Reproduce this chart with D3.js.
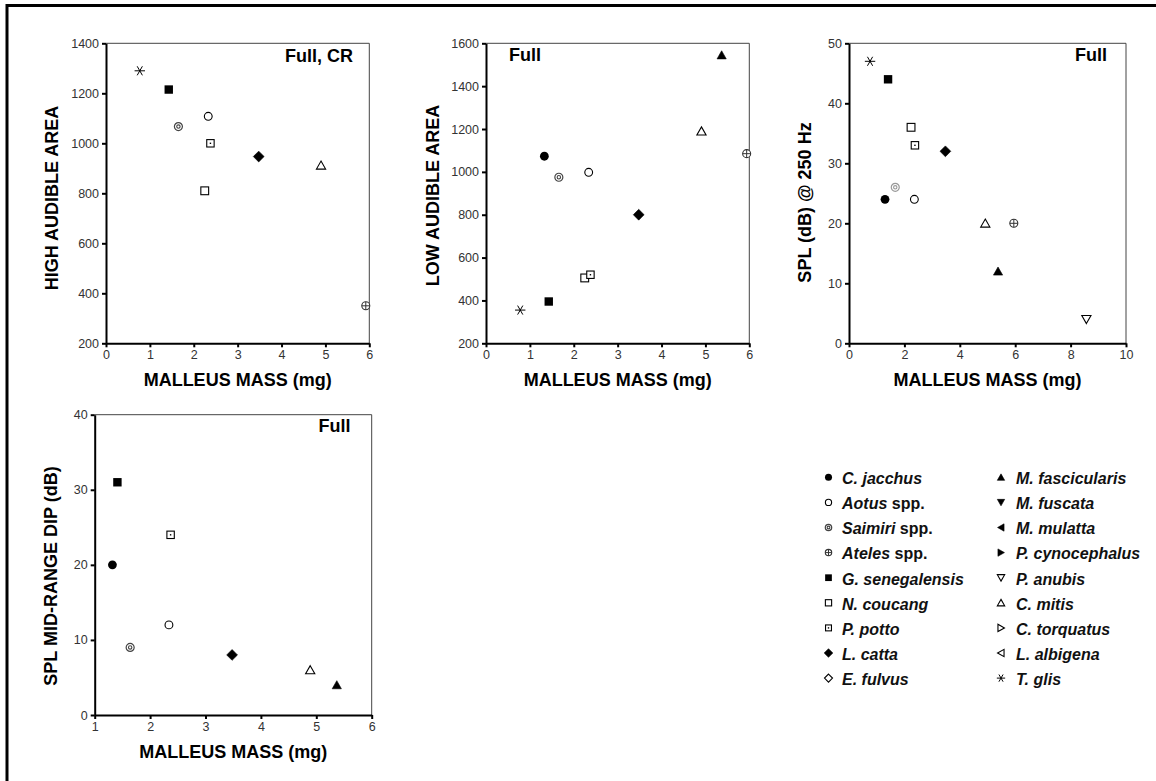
<!DOCTYPE html>
<html>
<head>
<meta charset="utf-8">
<script src="https://cdn.jsdelivr.net/npm/d3@7"></script>
<style>
  html, body { margin: 0; padding: 0; background: #fff; }
  svg { display: block; font-family: "Liberation Sans", Arial, sans-serif; }
</style>
</head>
<body>
<svg id="fig" width="1156" height="781"></svg>
<script>
// ---- Species and their plotting symbols ----
const legendLeft = ["C. jacchus", "Aotus", "Saimiri", "Ateles", "G. senegalensis",
                    "N. coucang", "P. potto", "L. catta", "E. fulvus"];
const legendRight = ["M. fascicularis", "M. fuscata", "M. mulatta", "P. cynocephalus",
                     "P. anubis", "C. mitis", "C. torquatus", "L. albigena", "T. glis"];
const genusOnly = ["Aotus", "Saimiri", "Ateles"]; // labelled "<genus> spp."

const symbolOf = {
  "C. jacchus": "circleFill", "Aotus": "circleOpen", "Saimiri": "circleDouble",
  "Ateles": "circleCross", "G. senegalensis": "squareFill", "N. coucang": "squareOpen",
  "P. potto": "squareDot", "L. catta": "diamondFill", "E. fulvus": "diamondOpen",
  "M. fascicularis": "triUpFill", "M. fuscata": "triDownFill", "M. mulatta": "triLeftFill",
  "P. cynocephalus": "triRightFill", "P. anubis": "triDownOpen", "C. mitis": "triUpOpen",
  "C. torquatus": "triRightOpen", "L. albigena": "triLeftOpen", "T. glis": "asterisk"
};

// ---- Panel A: high audible area ----
const highSpecies = ["T. glis", "G. senegalensis", "Aotus", "Saimiri", "P. potto",
                     "L. catta", "C. mitis", "N. coucang", "Ateles"];
const highMass = [0.77, 1.43, 2.33, 1.65, 2.38, 3.48, 4.90, 2.25, 5.92];
const highArea = [1290, 1215, 1108, 1067, 1000, 947, 912, 810, 350];

// ---- Panel B: low audible area ----
const lowSpecies = ["M. fascicularis", "C. mitis", "Ateles", "C. jacchus", "Saimiri",
                    "Aotus", "L. catta", "N. coucang", "P. potto", "G. senegalensis", "T. glis"];
const lowMass = [5.37, 4.91, 5.94, 1.33, 1.66, 2.34, 3.48, 2.25, 2.38, 1.43, 0.78];
const lowArea = [1545, 1190, 1085, 1073, 975, 998, 800, 505, 520, 395, 355];

// ---- Panel C: SPL at 250 Hz ----
const splSpecies = ["T. glis", "G. senegalensis", "N. coucang", "P. potto", "L. catta",
                    "Saimiri", "C. jacchus", "Aotus", "C. mitis", "Ateles",
                    "M. fascicularis", "P. anubis"];
const splMass = [0.76, 1.41, 2.24, 2.38, 3.48, 1.67, 1.30, 2.36, 4.92, 5.95, 5.38, 8.57];
const splDb = [47, 44, 36, 33, 32, 26, 24, 24, 20, 20, 12, 4];

// ---- Panel D: mid-range dip ----
const dipSpecies = ["G. senegalensis", "P. potto", "C. jacchus", "Aotus", "Saimiri",
                    "L. catta", "C. mitis", "M. fascicularis"];
const dipMass = [1.41, 2.37, 1.32, 2.34, 1.64, 3.48, 4.89, 5.37];
const dipDb = [31, 24, 20, 12, 9, 8, 6, 4];

// ---- Axis ticks ----
const ticksMass6 = [0, 1, 2, 3, 4, 5, 6];
const ticksMass10 = [0, 2, 4, 6, 8, 10];
const ticksMassDip = [1, 2, 3, 4, 5, 6];
const ticksHigh = [200, 400, 600, 800, 1000, 1200, 1400];
const ticksLow = [200, 400, 600, 800, 1000, 1200, 1400, 1600];
const ticksSpl = [0, 10, 20, 30, 40, 50];
const ticksDip = [0, 10, 20, 30, 40];

const xTitle = "MALLEUS MASS (mg)";

const panels = [
  { box: [106, 43.3, 263.3, 300], xDom: [0, 6], yDom: [200, 1400], xT: ticksMass6, yT: ticksHigh,
    sp: highSpecies, xs: highMass, ys: highArea, yTitle: "HIGH AUDIBLE AREA",
    yTitleX: 58, yTitleY: 198, tag: "Full, CR", tagAnchor: "end", tagX: 353, tagY: 61.5,
    saimiri: "#444" },
  { box: [486, 43.3, 263.3, 300], xDom: [0, 6], yDom: [200, 1600], xT: ticksMass6, yT: ticksLow,
    sp: lowSpecies, xs: lowMass, ys: lowArea, yTitle: "LOW AUDIBLE AREA",
    yTitleX: 438.5, yTitleY: 195.5, tag: "Full", tagAnchor: "start", tagX: 509, tagY: 60.5,
    saimiri: "#444" },
  { box: [849, 43.3, 277, 300], xDom: [0, 10], yDom: [0, 50], xT: ticksMass10, yT: ticksSpl,
    sp: splSpecies, xs: splMass, ys: splDb, yTitle: "SPL (dB) @ 250 Hz",
    yTitleX: 810.5, yTitleY: 202.5, tag: "Full", tagAnchor: "end", tagX: 1107, tagY: 61,
    saimiri: "#999" },
  { box: [94.7, 414.7, 277, 300.3], xDom: [1, 6], yDom: [0, 40], xT: ticksMassDip, yT: ticksDip,
    sp: dipSpecies, xs: dipMass, ys: dipDb, yTitle: "SPL MID-RANGE DIP (dB)",
    yTitleX: 56.5, yTitleY: 576, tag: "Full", tagAnchor: "end", tagX: 350.5, tagY: 432,
    saimiri: "#444" }
];

const svg = d3.select("#fig");

// Marker renderer: draws one symbol into g, scaled by k
function drawMarker(g, shape, k, grey) {
  const sw = 1.1;
  const ink = "#000";
  const tri = (pts, fill) => g.append("path")
      .attr("d", "M" + pts.map(p => [p[0] * k, p[1] * k].join(",")).join("L") + "Z")
      .attr("fill", fill ? ink : "#fff").attr("stroke", ink)
      .attr("stroke-width", fill ? 0.6 : sw).attr("stroke-linejoin", "miter");
  switch (shape) {
    case "circleFill":
      g.append("circle").attr("r", 4.4 * k).attr("fill", ink); break;
    case "circleOpen":
      g.append("circle").attr("r", 3.9 * k).attr("fill", "#fff").attr("stroke", ink).attr("stroke-width", sw); break;
    case "circleDouble":
      g.append("circle").attr("r", 4.0 * k).attr("fill", "#fff").attr("stroke", grey).attr("stroke-width", 1.2);
      g.append("circle").attr("r", 1.7 * k).attr("fill", "none").attr("stroke", grey).attr("stroke-width", 1.1); break;
    case "circleCross":
      g.append("circle").attr("r", 4.0 * k).attr("fill", "#fff").attr("stroke", "#333").attr("stroke-width", sw);
      g.append("path").attr("d", `M${-4 * k},0H${4 * k}M0,${-4 * k}V${4 * k}`)
        .attr("stroke", "#333").attr("stroke-width", 1); break;
    case "squareFill":
      g.append("rect").attr("x", -4.2 * k).attr("y", -4.2 * k).attr("width", 8.4 * k).attr("height", 8.4 * k).attr("fill", ink); break;
    case "squareOpen":
      g.append("rect").attr("x", -3.9 * k).attr("y", -3.9 * k).attr("width", 7.8 * k).attr("height", 7.8 * k)
        .attr("fill", "#fff").attr("stroke", ink).attr("stroke-width", sw); break;
    case "squareDot":
      g.append("rect").attr("x", -3.7 * k).attr("y", -3.7 * k).attr("width", 7.4 * k).attr("height", 7.4 * k)
        .attr("fill", "#fff").attr("stroke", ink).attr("stroke-width", sw);
      g.append("rect").attr("x", -0.7).attr("y", -0.7).attr("width", 1.4).attr("height", 1.4).attr("fill", ink); break;
    case "diamondFill":
      tri([[0, -5.4], [5.4, 0], [0, 5.4], [-5.4, 0]], true); break;
    case "diamondOpen":
      tri([[0, -5], [5, 0], [0, 5], [-5, 0]], false); break;
    case "triUpFill": tri([[0, -4.3], [4.6, 3.8], [-4.6, 3.8]], true); break;
    case "triDownFill": tri([[0, 4.3], [4.6, -3.8], [-4.6, -3.8]], true); break;
    case "triLeftFill": tri([[-4.3, 0], [3.8, 4.6], [3.8, -4.6]], true); break;
    case "triRightFill": tri([[4.3, 0], [-3.8, 4.6], [-3.8, -4.6]], true); break;
    case "triUpOpen": tri([[0, -4.3], [4.6, 3.8], [-4.6, 3.8]], false); break;
    case "triDownOpen": tri([[0, 4.3], [4.6, -3.8], [-4.6, -3.8]], false); break;
    case "triLeftOpen": tri([[-4.3, 0], [3.8, 4.6], [3.8, -4.6]], false); break;
    case "triRightOpen": tri([[4.3, 0], [-3.8, 4.6], [-3.8, -4.6]], false); break;
    case "asterisk": {
      const r = 5.2 * k, a = r * Math.cos(Math.PI / 3), b = r * Math.sin(Math.PI / 3);
      g.append("path").attr("d", `M${-r},0H${r}M${-a},${-b}L${a},${b}M${a},${-b}L${-a},${b}`)
        .attr("stroke", ink).attr("stroke-width", 1).attr("fill", "none");
      break;
    }
  }
}

// Outer frame (top and left rules)
svg.append("path").attr("d", "M7,781V5.5H1156").attr("fill", "none")
  .attr("stroke", "#000").attr("stroke-width", 3);

panels.forEach(p => {
  const [L, T, W, H] = p.box;
  const x = d3.scaleLinear().domain(p.xDom).range([L, L + W]);
  const y = d3.scaleLinear().domain(p.yDom).range([T + H, T]);
  const g = svg.append("g");

  // top and right frame lines
  g.append("path").attr("d", `M${L},${T}H${L + W}V${T + H}`).attr("fill", "none")
    .attr("stroke", "#444").attr("stroke-width", 1);

  const xAxis = g.append("g").attr("transform", `translate(0,${T + H})`)
    .call(d3.axisBottom(x).tickValues(p.xT).tickSize(4).tickSizeOuter(0).tickPadding(3).tickFormat(d3.format("d")));
  const yAxis = g.append("g").attr("transform", `translate(${L},0)`)
    .call(d3.axisLeft(y).tickValues(p.yT).tickSize(4).tickSizeOuter(0).tickPadding(3).tickFormat(d3.format("d")));
  [xAxis, yAxis].forEach(ax => {
    ax.select(".domain").attr("stroke", "#000").attr("stroke-width", 2);
    ax.selectAll(".tick line").attr("stroke", "#000").attr("stroke-width", 2);
    ax.selectAll(".tick text").attr("fill", "#333").style("font-size", "12.5px")
      .style("font-family", "'Liberation Sans', Arial, sans-serif");
  });

  // axis titles
  g.append("text").attr("x", x((p.xDom[0] + p.xDom[1]) / 2)).attr("y", T + H + 42.5)
    .attr("text-anchor", "middle").attr("font-weight", "bold").attr("font-size", 18)
    .text(xTitle);
  g.append("text").attr("transform", `translate(${p.yTitleX},${p.yTitleY}) rotate(-90)`)
    .attr("text-anchor", "middle").attr("font-weight", "bold").attr("font-size", 18)
    .text(p.yTitle);

  // panel tag
  g.append("text").attr("x", p.tagX).attr("y", p.tagY).attr("text-anchor", p.tagAnchor)
    .attr("font-weight", "bold").attr("font-size", 18).text(p.tag);

  // points
  p.sp.forEach((s, i) => {
    const m = g.append("g").attr("transform", `translate(${x(p.xs[i])},${y(p.ys[i])})`);
    drawMarker(m, symbolOf[s], 1, p.saimiri);
  });
});

// Legend
function legendColumn(names, mx, tx) {
  names.forEach((s, i) => {
    const cy = 477.3 + i * 25.1;
    const m = svg.append("g").attr("transform", `translate(${mx},${cy})`);
    drawMarker(m, symbolOf[s], 0.8, "#444");
    const t = svg.append("text").attr("x", tx).attr("y", cy + 6.8)
      .attr("font-weight", "bold").attr("font-size", 16).attr("fill", "#111");
    t.append("tspan").attr("font-style", "italic").text(s);
    if (genusOnly.includes(s)) t.append("tspan").text(" spp.");
  });
}
legendColumn(legendLeft, 828.5, 842);
legendColumn(legendRight, 1001, 1016);
</script>
</body>
</html>
